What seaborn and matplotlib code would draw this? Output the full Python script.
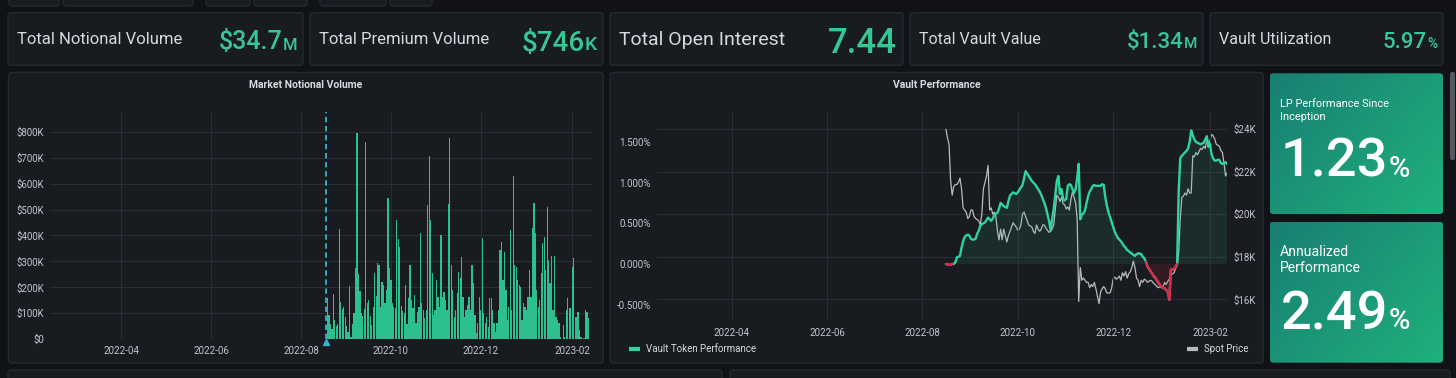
import matplotlib
matplotlib.use("Agg")
import matplotlib.pyplot as plt
import matplotlib.dates as mdates
import matplotlib.colors as mcolors
from matplotlib.patches import FancyBboxPatch
from matplotlib.ticker import FuncFormatter, FixedLocator
import numpy as np
import pandas as pd
import seaborn as sns

# ---- values ----
stat_labels = ["Total Notional Volume", "Total Premium Volume", "Total Open Interest",
               "Total Vault Value", "Vault Utilization"]
stat_values = ["$34.7", "$746", "7.44", "$1.34", "5.97"]
stat_units = ["M", "K", "", "M", "%"]

lp_label = ["LP Performance Since", "Inception"]
lp_value = "1.23"
ann_label = ["Annualized", "Performance"]
ann_value = "2.49"

annotation_date = "2022-08-18"

# daily notional volume, $K, starting 2022-08-19
notional_start = "2022-08-19"
notional_k = [
    158, 95, 60, 40, 175, 75, 50, 60, 425, 145,
    115, 125, 85, 50, 30, 205, 10, 60, 100, 275,
    795, 250, 185, 100, 90, 115, 760, 140, 150, 90,
    55, 125, 255, 165, 295, 285, 125, 220, 210, 140,
    190, 545, 275, 230, 140, 125, 120, 460, 385, 355,
    130, 110, 100, 210, 60, 160, 285, 150, 120, 170,
    62, 107, 126, 408, 141, 113, 81, 113, 518, 706,
    460, 254, 94, 113, 229, 164, 126, 400, 164, 184,
    152, 113, 520, 775, 286, 190, 87, 113, 177, 261,
    235, 319, 164, 87, 113, 132, 164, 113, 286, 216,
    94, 23, 62, 164, 113, 389, 100, 62, 87, 49,
    158, 158, 113, 62, 30, 62, 113, 344, 376, 230,
    338, 190, 75, 126, 421, 113, 629, 286, 280, 229,
    209, 203, 75, 139, 126, 113, 164, 267, 164, 428,
    524, 408, 190, 126, 152, 254, 370, 395, 267, 511,
    306, 216, 322, 113, 322, 87, 75, 62, 10, 0,
    55, 10, 113, 158, 120, 120, 280, 312, 87, 87,
    107, 36, 10, 2, 4, 113, 107, 81,
]

# daily vault token performance (%) and spot price ($K), starting 2022-08-16
vault_start = "2022-08-16"
vault_perf_pct = [
    0.00, -0.005, -0.01, -0.01, 0.00, 0.00, 0.02, 0.08, 0.09, 0.10, 0.20, 0.28, 0.33, 0.35, 0.36, 0.35,
    0.31, 0.30, 0.30, 0.31, 0.37, 0.41, 0.47, 0.49, 0.50, 0.51, 0.54, 0.57, 0.55, 0.53, 0.56,
    0.60, 0.62, 0.63, 0.68, 0.75, 0.73, 0.71, 0.70, 0.69, 0.77, 0.84, 0.86, 0.88, 0.87, 0.86,
    0.88, 0.91, 0.94, 0.97, 1.05, 1.14, 1.11, 1.08, 1.05, 1.02, 1.00, 0.98, 0.95, 0.92, 0.89,
    0.85, 0.80, 0.75, 0.69, 0.61, 0.53, 0.42, 0.55, 0.68, 0.85, 1.02, 1.08, 0.86, 0.92, 0.80, 0.78,
    0.80, 0.96, 0.98, 0.97, 0.92, 0.87, 0.92, 1.05, 1.23, 0.55, 0.61, 0.62,
    0.66, 0.75, 0.83, 0.89, 0.92, 0.96, 0.97, 0.96, 0.96, 0.96, 0.96, 0.98, 0.97, 0.82, 0.72,
    0.64, 0.58, 0.52,
    0.46, 0.40, 0.36, 0.32, 0.30, 0.28, 0.25, 0.22, 0.20, 0.17, 0.16, 0.14, 0.13, 0.11, 0.10,
    0.12, 0.13, 0.13, 0.12, 0.09, 0.07, 0.03, -0.03, -0.06, -0.09, -0.12, -0.15, -0.17, -0.20,
    -0.23, -0.26,
    -0.28, -0.29, -0.30, -0.32, -0.34, -0.44, -0.07, -0.07, -0.06, -0.04, 0.00, 0.90, 1.30,
    1.33, 1.35, 1.37, 1.39, 1.42, 1.50, 1.64, 1.58, 1.53, 1.50, 1.49, 1.48, 1.47, 1.48, 1.49,
    1.53, 1.57, 1.44,
    1.48, 1.35, 1.30, 1.27, 1.27, 1.28, 1.28, 1.24, 1.23, 1.24, 1.25, 1.23,
]
spot_price_k = [
    24.0, 23.6, 23.3, 21.6, 20.9, 21.3, 21.4, 21.4, 21.5, 21.7, 21.2, 20.3, 20.2, 20.1, 19.8, 19.9,
    20.2, 20.2, 19.9, 19.8, 19.75, 19.7, 19.5, 20.0, 21.2, 21.5, 21.8, 22.3, 20.2, 20.3, 20.0,
    20.1, 19.9, 19.2, 18.8, 19.3, 18.8, 19.3, 19.0, 18.7, 19.0, 19.2, 19.4, 19.6, 19.5, 19.4,
    19.25, 19.3, 19.5, 20.0, 20.1, 19.9, 19.7, 19.5, 19.45, 19.4, 19.2, 19.1, 19.5, 19.3, 19.2,
    19.3, 19.5, 19.5, 19.35, 19.25, 19.15, 19.2, 19.3, 19.5, 20.2, 20.9, 20.8, 20.6, 20.8, 20.5,
    20.45,
    20.25, 20.35, 20.2, 20.7, 21.05, 20.8, 20.55, 19.8, 15.9, 17.5, 16.9, 17.0,
    16.9, 16.8, 16.8, 16.55, 16.7, 16.6, 16.8, 16.5, 16.15, 15.8, 16.35, 16.5, 16.6, 16.5, 16.3,
    16.3, 16.3, 16.5,
    16.95, 17.05, 16.95, 17.0, 17.1, 16.9, 17.25, 17.1, 17.3, 17.0, 17.2, 17.3, 17.5, 17.8, 17.5,
    17.0, 16.9, 16.6, 16.9, 16.8, 16.95, 16.9, 16.8, 16.85, 16.9, 16.85, 16.75, 16.7, 16.6,
    16.55, 16.6,
    16.55, 16.6, 16.8, 16.7, 16.85, 16.95, 17.15, 17.2, 17.25, 17.45, 17.6, 18.2, 19.8, 20.8,
    20.85, 21.0, 20.9, 21.2, 21.0, 21.0, 22.75, 22.7, 22.9, 22.8, 22.95, 23.1, 23.05, 23.2,
    23.1, 23.55, 23.25,
    23.45, 23.75, 23.7, 23.55, 23.3, 23.25, 23.2, 23.0, 22.9, 22.4, 21.8, 21.95,
]

# ---- styling ----
BG = "#111217"
PANEL = "#181b1f"
BORDER = "#26292f"
TEXT = "#d8d9e0"
TICK = "#c4c6cf"
GRID = "#2a2d33"
VALUE = "#36c795"
BAR = "#2bc08e"
LINE_GREEN = "#2fd49c"
RED = "#e0264a"
SPOT = "#b9b9be"
ANNOT = "#35b3d1"

sns.set_theme(style="dark")
plt.rcParams["font.family"] = ["Roboto", "DejaVu Sans"]

W, H = 1456, 378
fig = plt.figure(figsize=(W / 100, H / 100), dpi=100, facecolor=BG)

# full-figure axes in pixel units for panels and labels
bg = fig.add_axes([0, 0, 1, 1])
bg.set_xlim(0, W)
bg.set_ylim(H, 0)
bg.axis("off")
bg.set_zorder(0)


def px_rect(x0, y0, x1, y1):
    return [x0 / W, 1 - y1 / H, (x1 - x0) / W, (y1 - y0) / H]


def panel(x0, y0, x1, y1, fc=PANEL, ec=BORDER, r=3):
    p = FancyBboxPatch((x0, y0), x1 - x0, y1 - y0,
                       boxstyle=f"round,pad=0,rounding_size={r}",
                       fc=fc, ec=ec, lw=1, zorder=1)
    bg.add_patch(p)
    return p


# dashboard furniture
for x0, x1 in [(9, 59), (63, 193), (206, 250), (254, 307), (320, 386), (390, 432)]:
    panel(x0, -6, x1, 6)
panel(8, 370, 722, 390)
panel(730, 370, 1450, 390)
panel(1450, 72, 1455, 160, fc="#55585f", ec="none", r=2)

renderer = fig.canvas.get_renderer()

# ---- top stat row ----
stat_boxes = [(8, 303), (310, 603), (610, 903), (910, 1203), (1210, 1443)]
label_sizes = [12, 12, 14, 11.5, 11.5]
value_sizes = [18, 20, 25, 16, 16]
unit_sizes = [12, 14, 0, 11, 10]
value_base = [49.5, 50.5, 53, 48.5, 48.5]
for i, (x0, x1) in enumerate(stat_boxes):
    panel(x0, 12.7, x1, 65.3)
    bg.text(x0 + 9, 40, stat_labels[i], ha="left", va="center",
            fontsize=label_sizes[i], color=TEXT, zorder=3)
    xr = x1 - 6
    if stat_units[i]:
        t = bg.text(xr, value_base[i], stat_units[i], ha="right", va="baseline",
                    fontsize=unit_sizes[i], color=VALUE, fontweight="medium", zorder=3)
        xr -= t.get_window_extent(renderer=renderer).width
    bg.text(xr, value_base[i], stat_values[i], ha="right", va="baseline",
            fontsize=value_sizes[i], color=VALUE, fontweight="medium", zorder=3)

# ---- green performance tiles ----
c0 = np.array(mcolors.to_rgb("#187f73"))
c1 = np.array(mcolors.to_rgb("#20b07c"))
gu = np.linspace(0, 1, 64)
grad = gu[None, :] * 0.6 + gu[:, None] * 0.4
grad_img = c0 + (c1 - c0) * grad[..., None]


def tile(x0, y0, x1, y1, lines, y_lines, label_size, value, base):
    p = panel(x0, y0, x1, y1, fc="none", ec="none")
    im = bg.imshow(grad_img, extent=(x0, x1, y1, y0), origin="upper",
                   aspect="auto", interpolation="bilinear", zorder=1)
    im.set_clip_path(p)
    for s, yy in zip(lines, y_lines):
        bg.text(x0 + 10, yy, s, ha="left", va="center", fontsize=label_size,
                color="white", zorder=3)
    t = bg.text(x0 + 11, base, value, ha="left", va="baseline", fontsize=39,
                color="white", fontweight="medium", zorder=3)
    w = t.get_window_extent(renderer=renderer).width
    bg.text(x0 + 11 + w, base, "%", ha="left", va="baseline", fontsize=21,
            color="white", fontweight="medium", zorder=3)


tile(1270, 73.3, 1443, 214, lp_label, [104.3, 116.7], 7.9, lp_value, 176.7)
tile(1270, 221.7, 1443, 362.7, ann_label, [251.7, 268.3], 10.1, ann_value, 329.3)
bg.set_xlim(0, W)
bg.set_ylim(H, 0)

# ---- Market Notional Volume ----
panel(8.5, 72.5, 603.3, 363)
bg.text(306, 85, "Market Notional Volume", ha="center", va="center", fontsize=7.5,
        fontweight="bold", color=TEXT, zorder=3)

ax1 = fig.add_axes(px_rect(50, 111.7, 591.7, 339.3))
ax1.set_zorder(2)
ax1.set_facecolor("none")
bar_dates = pd.date_range(notional_start, periods=len(notional_k), freq="D")
ax1.bar(bar_dates, np.array(notional_k) * 1000, width=0.85, color=BAR, lw=0, zorder=2)
ax1.axvline(pd.Timestamp(annotation_date), color=ANNOT, lw=1.3, ls=(0, (3, 2)), zorder=3)
ax1.plot([pd.Timestamp(annotation_date)], [-0.012], marker="^", ms=5, color=ANNOT,
         transform=ax1.get_xaxis_transform(), clip_on=False, zorder=4)
ax1.set_xlim(pd.Timestamp("2022-02-11 19:00"), pd.Timestamp("2023-02-14 05:00"))
ax1.set_ylim(0, 877000)
ax1.yaxis.set_major_locator(FixedLocator(np.arange(0, 800001, 100000)))
ax1.yaxis.set_major_formatter(FuncFormatter(lambda v, _: "$0" if v == 0 else f"${v / 1000:.0f}K"))

# ---- Vault Performance ----
panel(610, 72.5, 1263.3, 363)
bg.text(936.5, 85, "Vault Performance", ha="center", va="center", fontsize=7.5,
        fontweight="bold", color=TEXT, zorder=3)

axv = fig.add_axes(px_rect(657, 112, 1227, 320))
axs = axv.twinx()
axs.set_zorder(2)
axv.set_zorder(3)
axv.patch.set_visible(False)
axs.set_facecolor("none")

vault_dates = pd.date_range(vault_start, periods=len(vault_perf_pct), freq="D")
perf = np.array(vault_perf_pct)

sns.lineplot(x=vault_dates, y=spot_price_k, ax=axs, color=SPOT, lw=0.9)
axv.fill_between(vault_dates, perf, 0, where=perf >= 0, interpolate=True,
                 color=LINE_GREEN, alpha=0.1, lw=0)
axv.fill_between(vault_dates, perf, 0, where=perf <= 0, interpolate=True,
                 color=RED, alpha=0.13, lw=0)
sns.lineplot(x=vault_dates, y=perf, ax=axv, color=LINE_GREEN, lw=1.7)
neg = perf < 0
red_mask = neg | np.r_[neg[1:], False] | np.r_[False, neg[:-1]]
axv.plot(vault_dates, np.where(red_mask, perf, np.nan), color=RED, lw=1.7, zorder=4)

axv.set_xlim(pd.Timestamp("2022-02-12 02:00"), pd.Timestamp("2023-02-11 22:00"))
axv.set_ylim(-0.688, 1.867)
axs.set_ylim(15.03, 24.81)
axv.yaxis.set_major_locator(FixedLocator([-0.5, 0, 0.5, 1.0, 1.5]))
axv.yaxis.set_major_formatter(FuncFormatter(lambda v, _: f"{v:.3f}%"))
axs.yaxis.set_major_locator(FixedLocator([16, 18, 20, 22, 24]))
axs.yaxis.set_major_formatter(FuncFormatter(lambda v, _: f"${v:.0f}K"))

# legend
bg.plot([629, 640], [349.3, 349.3], color=LINE_GREEN, lw=3, solid_capstyle="butt", zorder=3)
bg.text(646, 349.3, "Vault Token Performance", ha="left", va="center", fontsize=7,
        color=TEXT, zorder=3)
bg.plot([1187, 1198], [349.3, 349.3], color=SPOT, lw=3, solid_capstyle="butt", zorder=3)
bg.text(1204, 349.3, "Spot Price", ha="left", va="center", fontsize=7, color=TEXT, zorder=3)

# shared axis styling
for ax in (ax1, axv, axs):
    ax.set_xlabel("")
    ax.set_ylabel("")
    for sp in ax.spines.values():
        sp.set_visible(False)
    ax.tick_params(length=0, labelsize=7, colors=TICK)
    ax.tick_params(axis="x", pad=4.5)
    ax.tick_params(axis="y", pad=4.5)
    ax.xaxis.set_major_locator(mdates.MonthLocator(bymonth=[2, 4, 6, 8, 10, 12]))
    ax.xaxis.set_major_formatter(mdates.DateFormatter("%Y-%m"))

ax1.set_axisbelow(True)
ax1.grid(True, color=GRID, lw=0.8)
axv.set_axisbelow(True)
axv.xaxis.grid(True, color=GRID, lw=0.8)
axv.yaxis.grid(False)
axs.set_axisbelow(True)
axs.yaxis.grid(True, color=GRID, lw=0.8)
axs.xaxis.grid(False)
axv.tick_params(axis="x", pad=5.4)

fig.savefig("out.png", dpi=100, facecolor=BG)
